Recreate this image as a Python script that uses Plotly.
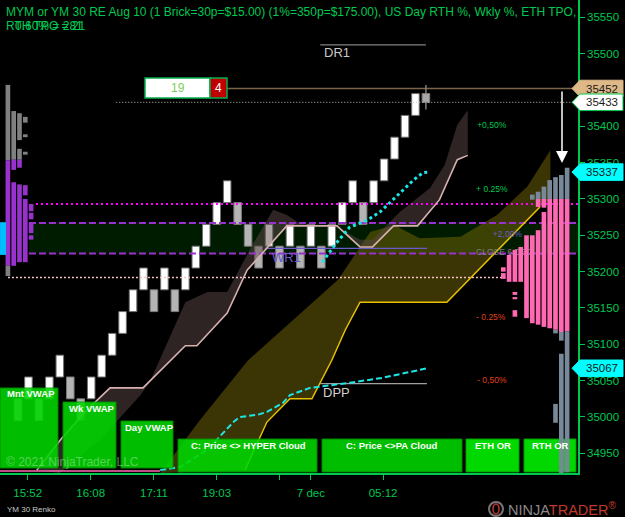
import plotly.graph_objects as go

# ---------------- data ----------------
BRICK = 30
brick_low = [34995, 35025, 34995, 35025, 35055, 35025, 34995, 35025, 35055, 35085,
             35115, 35145, 35175, 35145, 35175, 35145, 35175, 35205, 35235, 35265,
             35295, 35265, 35235, 35205, 35235, 35205, 35235, 35205, 35235, 35205,
             35235, 35265, 35295, 35265, 35295, 35325, 35355, 35385, 35415]
brick_dir = [-1, 1, -1, 1, 1, -1, -1, 1, 1, 1,
             1, 1, 1, -1, 1, -1, 1, 1, 1, 1,
             1, -1, -1, -1, 1, -1, 1, -1, 1, -1,
             1, 1, 1, -1, 1, 1, 1, 1, 1]
live_open, live_close, live_high, live_low = 35445, 35433, 35457, 35423

x_tick_vals = [0.93, 6.95, 13.0, 19.0, 25.0, 28.0, 34.9]
x_tick_text = ["15:52", "16:08", "17:11", "19:03", "", "7 dec", "05:12"]
y_tick_vals = list(range(34950, 35551, 50))

# horizontal levels
dr1_level = 35512
wr1_level = 35232
dpp_level = 35046
high_level = 35452
last_level = 35433
magenta_level = 35293
zone_high, zone_low = 35267, 35225
pink_level = 35192

# PA cloud (taupe): line and other edge
pa_x = [1.8, 4.2, 6.9, 8.8, 11.95, 16.0, 17.1, 20.0, 21.9, 23.8, 25.7, 27.6, 30.5, 32.7, 33.9, 35.9, 38.2, 40.3, 42.0, 43.0]
pa_line = [34927, 34971, 35014, 35040, 35040, 35098, 35098, 35143, 35202, 35232, 35263, 35263, 35263,
           35234, 35234, 35263, 35263, 35299, 35354, 35360]
pa_edge_x = [4.0, 7.8, 11.7, 12.6, 16.0, 18.1, 20.0, 22.5, 24.4, 25.7, 27.0, 30.5, 32.7, 33.9, 36.5, 39.4, 40.8, 42.0, 43.0]
pa_edge = [34923, 34968, 35030, 35048, 35158, 35172, 35172, 35239, 35285, 35278, 35266, 35261, 35244,
           35244, 35282, 35315, 35347, 35402, 35422]

# HYPER cloud (olive): top edge and bottom (yellow) edge
hy_top_x = [13.6, 17.4, 22.0, 27.0, 30.6, 33.7, 36.0, 38.4, 42.3, 45.8, 48.7, 50.9]
hy_top = [34923, 34996, 35078, 35142, 35189, 35255, 35264, 35246, 35248, 35278, 35317, 35367]
hy_bot_x = [13.6, 21.7, 23.8, 26.0, 28.1, 30.0, 31.3, 32.7, 41.0, 49.9, 50.9]
hy_bot = [34923, 34927, 34993, 35025, 35025, 35078, 35120, 35158, 35158, 35289, 35299]

# cyan VWAP-like lines
cy1_x = [29.1, 30.3, 31.7, 33.4, 34.6, 35.9, 36.8, 37.8, 38.7, 39.2]
cy1 = [35213, 35237, 35261, 35271, 35282, 35299, 35312, 35326, 35336, 35337]
cy2_x = [13.6, 15.5, 18.1, 20.6, 21.2, 22.9, 23.8, 25.3, 26.0, 27.9, 31.7, 34.9, 39.1]
cy2 = [34927, 34931, 34955, 34993, 35000, 35003, 35007, 35019, 35030, 35040, 35047, 35054, 35067]

# price tags on the right axis
tag_vals = [35452, 35433, 35337, 35067]
tag_fill = ["#deb887", "#ffffff", "#00ffff", "#00ffff"]
tag_line = ["#deb887", "#00c850", "#00ffff", "#00ffff"]

# percent labels
pct_text = ["+0,50%", "+ 0.25%", "+2,00%", "CLOSE 6 DEC", "- 0.25%", "- 0,50%"]
pct_price = [35401, 35313, 35250, 35226, 35136, 35049]
pct_x = [43.9, 43.8, 45.4, 43.8, 43.8, 43.9]
pct_color = ["#00c850", "#00c850", "#6a5acd", "#808080", "#e0401e", "#e0401e"]

# ETH TPO profile (left), columns counted from the left
lp_col = [1, 1, 1, 2, 2, 2, 3, 3, 3, 3, 4, 4, 4, 4, 4, 5, 5, 5, 5]
lp_lo = [35353, 35208, 35194, 35354, 35340, 35208, 35381, 35354, 35343, 35213,
         35405, 35385, 35361, 35305, 35213, 35283, 35272, 35253, 35244]
lp_hi = [35457, 35353, 35208, 35421, 35354, 35323, 35418, 35369, 35354, 35320,
         35413, 35389, 35365, 35319, 35300, 35293, 35281, 35267, 35250]
lp_kind = ['g', 'p', 'g', 'g', 'p', 'p', 'g', 'g', 'p', 'p', 'g', 'g', 'g', 'p', 'p', 'p', 'p', 'p', 'p']
va_lo, va_hi = 35223, 35268

# RTH TPO profile (right), columns counted from the right
rp_col = [1, 1, 1, 2, 2, 2, 2, 3, 3, 3, 3, 4, 4, 5, 5, 5, 6, 6, 6, 7, 7, 8, 9, 10, 10, 10, 10, 11, 12, 12]
rp_lo = [35300, 35118, 34924, 35300, 35117, 35105, 34923, 35300, 35120, 35115, 34992, 35300, 35122,
         35300, 35288, 35124, 35300, 35289, 35127, 35299, 35129, 35136, 35186,
         35186, 35168, 35162, 35138, 35186, 35200, 35190]
rp_hi = [35343, 35300, 35118, 35333, 35300, 35117, 35087, 35330, 35300, 35120, 35018, 35326, 35300,
         35317, 35300, 35282, 35310, 35300, 35257, 35306, 35250, 35250, 35234,
         35230, 35172, 35165, 35147, 35223, 35206, 35198]
rp_kind = ['g', 'p', 'g', 'g', 'p', 'g', 'g', 'g', 'p', 'g', 'g', 'g', 'p', 'g', 'p', 'p', 'g', 'p', 'p',
           'g', 'p', 'p', 'p', 'p', 'p', 'p', 'p', 'p', 'p', 'p']

# ---------------- layout constants ----------------
GREEN = "#00c850"
FONT = "Liberation Sans, Arial, sans-serif"
PW, PH = 578, 473
X_RANGE = [-1.72, 53.54]
Y_RANGE = [34922.9, 35573.8]
COLW = 5.8  # px per TPO column


def px(x):
    return x / PW


def py(y):
    return 1 - y / PH


fig = go.Figure()
shapes = []
annotations = []

# zone (below everything)
shapes.append(dict(type="rect", xref="x", yref="y", x0=1.05, x1=X_RANGE[1] + 1, y0=zone_low, y1=zone_high,
                   fillcolor="rgba(0,55,0,0.5)", line=dict(width=0), layer="below"))

# clouds
fig.add_trace(go.Scatter(x=hy_top_x + hy_bot_x[::-1], y=hy_top + hy_bot[::-1], fill="toself",
                         fillcolor="rgba(118,104,8,0.5)", line=dict(width=0), mode="lines"))
fig.add_trace(go.Scatter(x=pa_x + pa_edge_x[::-1], y=pa_line + pa_edge[::-1], fill="toself",
                         fillcolor="rgba(92,72,72,0.5)", line=dict(width=0), mode="lines"))


def hline(level, x0, x1, color, width, dash="solid"):
    fig.add_trace(go.Scatter(x=[x0, x1], y=[level, level], mode="lines",
                             line=dict(color=color, width=width, dash=dash)))


hline(pink_level, -0.96, 46.6, "#f4c2c2", 1.5, "2px,2px")
hline(zone_high, 1.05, 54, "#9932cc", 2, "7px,3px")
hline(zone_low, 1.05, 54, "#9932cc", 2, "7px,3px")
hline(magenta_level, 1.72, 54, "#ff00ff", 2, "2px,3px")
hline(wr1_level, 23.6, 39.1, "#6a5acd", 1.2)
hline(dpp_level, 28.9, 39.1, "#a0a0a0", 1.2)
hline(dr1_level, 28.9, 39.0, "#a0a0a0", 1)
hline(high_level, 12.1, 54, "#7a6548", 1.5)
hline(last_level, 9.4, 54, "#c8c8c8", 1, "1px,2px")
hline(34925.5, -1.72, 13.6, "#ff69b4", 1.5)

# PA line, yellow line, cyan lines
fig.add_trace(go.Scatter(x=pa_x, y=pa_line, mode="lines", line=dict(color="#d8b0b0", width=1.6)))
fig.add_trace(go.Scatter(x=hy_bot_x[1:-1], y=hy_bot[1:-1], mode="lines", line=dict(color="#e8c000", width=1.5)))
fig.add_trace(go.Scatter(x=cy1_x, y=cy1, mode="lines", line=dict(color="#1ee6e6", width=3, dash="3px,3px")))
fig.add_trace(go.Scatter(x=cy2_x, y=cy2, mode="lines", line=dict(color="#1ee6e6", width=2, dash="6px,3px")))

# percent labels (below profile)
fig.add_trace(go.Scatter(x=pct_x, y=pct_price, mode="text", text=pct_text, textposition="middle right",
                         textfont=dict(family=FONT, size=8.5, color=pct_color)))

# bricks
n = len(brick_low)
fig.add_trace(go.Bar(x=list(range(n)), y=[BRICK] * n, base=brick_low, width=0.72,
                     marker=dict(color=["#ffffff" if d > 0 else "#b4b4b4" for d in brick_dir],
                                 line=dict(color=["#707070" if d > 0 else "#7a7a7a" for d in brick_dir],
                                           width=1))))
fig.add_trace(go.Bar(x=[n], y=[abs(live_open - live_close)], base=[min(live_open, live_close)], width=0.72,
                     marker=dict(color="#a8a8a8", line=dict(color="#808080", width=1))))
fig.add_trace(go.Scatter(x=[n, n, None, n, n], y=[live_high, max(live_open, live_close), None,
                                                   min(live_open, live_close), live_low],
                         mode="lines", line=dict(color="#808080", width=1.5)))

# profiles on overlay axis
L_EDGE = 5 / COLW
R_EDGE = 570 / COLW
lp_x = [L_EDGE + c - 0.5 for c in lp_col]
rp_x = [R_EDGE - (k - 0.5) for k in rp_col]
fig.add_trace(go.Bar(x=lp_x, y=[h - l for l, h in zip(lp_lo, lp_hi)], base=lp_lo, width=0.8,
                     xaxis="x2", yaxis="y",
                     marker=dict(color=["#808080" if k == 'g' else "#9932cc" for k in lp_kind], line_width=0)))
fig.add_trace(go.Bar(x=[0.52], y=[va_hi - va_lo], base=[va_lo], width=1.03, xaxis="x2", yaxis="y",
                     marker=dict(color="#00bfff", line_width=0)))
fig.add_trace(go.Bar(x=rp_x, y=[h - l for l, h in zip(rp_lo, rp_hi)], base=rp_lo, width=0.8,
                     xaxis="x2", yaxis="y",
                     marker=dict(color=["#778899" if k == 'g' else "#ff69b4" for k in rp_kind], line_width=0)))

# green boxes
boxes = [("Mnt VWAP", 0, 388, 58, 468, "tl", 5, 393.5, "above"),
         ("Wk VWAP", 63, 402, 116, 468, "tl", 67, 408, "above"),
         ("Day VWAP", 121, 421, 173, 468, "tl", 123, 427, "above"),
         ("C: Price <> HYPER Cloud", 178, 439, 317, 472, "c", 248, 445.5, "above"),
         ("C: Price <>PA Cloud", 322, 439, 462, 472, "c", 392, 445.5, "above"),
         ("ETH OR", 466, 439, 519, 472, "c", 493, 445, "below"),
         ("RTH OR", 524, 439, 576, 472, "c", 550, 445, "below")]
for label, x0, y0, x1, y1, anc, tx, ty, layer in boxes:
    shapes.append(dict(type="rect", xref="paper", yref="paper", x0=px(x0), x1=px(x1), y0=py(y1), y1=py(y0),
                       fillcolor="#00d800", opacity=0.88 if layer == "above" else 1,
                       line=dict(color="#009a00", width=1), layer=layer))
    annotations.append(dict(xref="paper", yref="paper", x=px(tx), y=py(ty), text="<b>%s</b>" % label,
                            showarrow=False, xanchor="left" if anc == "tl" else "center", yanchor="middle",
                            font=dict(family=FONT, size=9.5, color="#ffffff")))

# "19" / "4" boxes
shapes.append(dict(type="rect", xref="paper", yref="paper", x0=px(145), x1=px(210), y0=py(98), y1=py(78),
                   fillcolor="#ffffff", line=dict(color="#00b050", width=1.5), layer="above"))
shapes.append(dict(type="rect", xref="paper", yref="paper", x0=px(210), x1=px(227), y0=py(98), y1=py(78),
                   fillcolor="#c00000", line=dict(color="#00b050", width=1.5), layer="above"))
annotations.append(dict(xref="paper", yref="paper", x=px(178), y=py(88), text="19", showarrow=False,
                        xanchor="center", yanchor="middle",
                        font=dict(family=FONT, size=12, color="#7ccd5c")))
annotations.append(dict(xref="paper", yref="paper", x=px(218.5), y=py(88), text="4", showarrow=False,
                        xanchor="center", yanchor="middle",
                        font=dict(family=FONT, size=12, color="#ffffff")))

# price tags
half = 11.4
xt, xa, xb = px(572), px(580), px(623)
for v, fc, lc in zip(tag_vals, tag_fill, tag_line):
    shapes.append(dict(type="path", xref="paper", yref="y",
                       path="M %f,%f L %f,%f L %f,%f L %f,%f L %f,%f Z" % (xt, v, xa, v + half, xb, v + half,
                                                                         xb, v - half, xa, v - half),
                       fillcolor=fc, line=dict(color=lc, width=1), layer="above"))
    annotations.append(dict(xref="paper", yref="y", x=px(601.5), y=v, text=str(v), showarrow=False,
                            xanchor="center", yanchor="middle",
                            font=dict(family=FONT, size=11.5, color="#1a1a1a")))

# white arrow
annotations.append(dict(xref="paper", yref="paper", x=px(562), y=py(163), ax=0, ay=-73, text="",
                        showarrow=True, arrowcolor="#ffffff", arrowwidth=1.5, arrowhead=2, arrowsize=1.6))

# level labels
annotations.append(dict(x=29.06, y=35502, text="DR1", showarrow=False, xanchor="left", yanchor="middle",
                        font=dict(family=FONT, size=13, color="#c8c8c8")))
annotations.append(dict(x=24.1, y=35220, text="WR1", showarrow=False, xanchor="left", yanchor="middle",
                        font=dict(family=FONT, size=13, color="#6a5acd")))
annotations.append(dict(x=28.97, y=35034, text="DPP", showarrow=False, xanchor="left", yanchor="middle",
                        font=dict(family=FONT, size=13, color="#d0d0d0")))

# title lines
annotations.append(dict(xref="paper", yref="paper", x=px(4), y=py(12.5), xanchor="left", yanchor="middle",
                        showarrow=False,
                        text="MYM or YM 30 RE Aug 10 (1 Brick=30p=$15.00) (1%=350p=$175.00), US Day RTH %, Wkly %, ETH TPO,",
                        font=dict(family=FONT, size=12, color=GREEN)))
annotations.append(dict(xref="paper", yref="paper", x=px(4), y=py(25.5), xanchor="left", yanchor="middle",
                        showarrow=False, text="RTH TPO = 21", font=dict(family=FONT, size=12, color=GREEN)))
annotations.append(dict(xref="paper", yref="paper", x=px(13), y=py(25.5), xanchor="left", yanchor="middle",
                        showarrow=False, text="0.60% = 281", font=dict(family=FONT, size=12, color=GREEN)))

# copyright
annotations.append(dict(xref="paper", yref="paper", x=px(4), y=py(462), xanchor="left", yanchor="middle",
                        showarrow=False, text="© 2021 NinjaTrader, LLC",
                        font=dict(family=FONT, size=12, color="rgba(160,230,160,0.55)")))
# footer
annotations.append(dict(xref="paper", yref="paper", x=px(5), y=py(509), xanchor="left", yanchor="middle",
                        showarrow=False, text="YM 30 Renko", font=dict(family=FONT, size=8, color="#c8c8c8")))
annotations.append(dict(xref="paper", yref="paper", x=px(506), y=py(509), xanchor="left", yanchor="middle",
                        showarrow=False,
                        text="<span style='color:#8a8a8a'>NINJA</span><span style='color:#c0392b'>TRADER</span>"
                             "<sup style='color:#c0392b'>®</sup>",
                        font=dict(family=FONT, size=14.5)))
shapes.append(dict(type="circle", xref="paper", yref="paper", x0=px(489), x1=px(503), y0=py(516), y1=py(502),
                   line=dict(color="#777777", width=2)))
shapes.append(dict(type="circle", xref="paper", yref="paper", x0=px(493), x1=px(499), y0=py(514), y1=py(504),
                   line=dict(color="#c0392b", width=1.5)))

fig.update_layout(
    width=625, height=517,
    margin=dict(l=0, r=47, t=0, b=44),
    paper_bgcolor="#000000", plot_bgcolor="#000000",
    showlegend=False, hovermode=False, barmode="overlay",
    font=dict(family=FONT, color=GREEN),
    xaxis=dict(range=X_RANGE, showgrid=False, zeroline=False, showline=True, linecolor=GREEN, linewidth=1.5,
               ticks="outside", ticklen=5, tickcolor=GREEN, tickvals=x_tick_vals, ticktext=x_tick_text,
               tickfont=dict(family=FONT, size=11.5, color=GREEN), ticklabelstandoff=3),
    xaxis2=dict(range=[0, PW / COLW], overlaying="x", visible=False, anchor="y"),
    yaxis=dict(range=Y_RANGE, side="right", showgrid=False, zeroline=False, showline=True, linecolor=GREEN,
               linewidth=1.5, ticks="outside", ticklen=5, tickcolor=GREEN, tickvals=y_tick_vals,
               tickformat="d", tickfont=dict(family=FONT, size=11.5, color=GREEN)),
    shapes=shapes, annotations=annotations,
)

fig.write_html("out.html")
